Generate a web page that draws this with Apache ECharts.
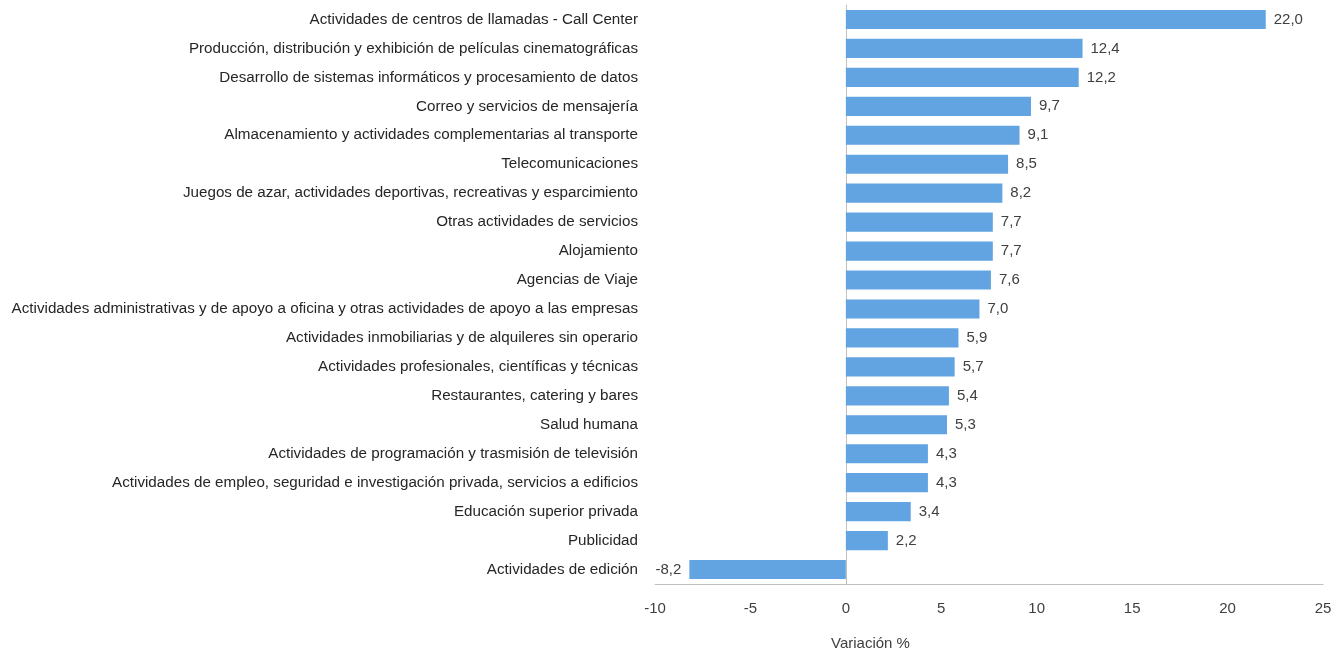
<!DOCTYPE html>
<html><head><meta charset="utf-8">
<script src="https://cdn.jsdelivr.net/npm/echarts@6/dist/echarts.min.js"></script>
<style>html,body{margin:0;padding:0;background:#fff}#c{width:1343px;height:654px}</style>
</head><body><div id="c"></div>
<script>
const categories = [
"Actividades de centros de llamadas - Call Center",
"Producción, distribución y exhibición de películas cinematográficas",
"Desarrollo de sistemas informáticos y procesamiento de datos",
"Correo y servicios de mensajería",
"Almacenamiento y actividades complementarias al transporte",
"Telecomunicaciones",
"Juegos de azar, actividades deportivas, recreativas y esparcimiento",
"Otras actividades de servicios",
"Alojamiento",
"Agencias de Viaje",
"Actividades administrativas y de apoyo a oficina y otras actividades de apoyo a las empresas",
"Actividades inmobiliarias y de alquileres sin operario",
"Actividades profesionales, científicas y técnicas",
"Restaurantes, catering y bares",
"Salud humana",
"Actividades de programación y trasmisión de televisión",
"Actividades de empleo, seguridad e investigación privada, servicios a edificios",
"Educación superior privada",
"Publicidad",
"Actividades de edición"
];
const values = [22.0,12.4,12.2,9.7,9.1,8.5,8.2,7.7,7.7,7.6,7.0,5.9,5.7,5.4,5.3,4.3,4.3,3.4,2.2,-8.2];
const xTicks = {min:-10, max:25, interval:5};
const axisTitle = "Variación %";

const font = "Liberation Sans, sans-serif";
const chart = echarts.init(document.getElementById('c'));
chart.setOption({
  animation:false,
  textStyle:{fontFamily:font},
  grid:{left:655,right:20,top:5,bottom:70,containLabel:false},
  xAxis:{type:'value',min:xTicks.min,max:xTicks.max,interval:xTicks.interval,
    axisLine:{show:true,lineStyle:{color:'#bfbfbf',width:1}},axisTick:{show:false},
    splitLine:{show:false},
    axisLabel:{fontSize:15,color:'#404040',margin:17,fontFamily:font}},
  yAxis:[{type:'category',data:categories,inverse:true,
    axisLine:{show:true,onZero:true,lineStyle:{color:'#bfbfbf'}},axisTick:{show:false},
    axisLabel:{show:false}},
   {type:'category',data:categories,inverse:true,position:'left',offset:0,
    axisLine:{show:false},axisTick:{show:false},
    axisLabel:{show:true,fontSize:15.2,color:'#262626',margin:17,fontFamily:font}}],
  graphic:[{type:'text',left:831,top:636,style:{text:axisTitle,font:'15px '+font,fill:'#404040'}}],
  series:[
    {type:'bar',yAxisIndex:0,data:values.map(v=>({value:v,label:{position:v<0?'left':'right'}})),
     barCategoryGap:'34%',itemStyle:{color:'#62a4e2'},
     label:{show:true,fontSize:15,color:'#404040',distance:8,fontFamily:font,
       formatter:p=>p.value.toFixed(1).replace('.',',')}},
    {type:'bar',yAxisIndex:1,data:values.map(()=>0),silent:true,barGap:'-100%',itemStyle:{color:'transparent'}}
  ]
});
</script></body></html>
